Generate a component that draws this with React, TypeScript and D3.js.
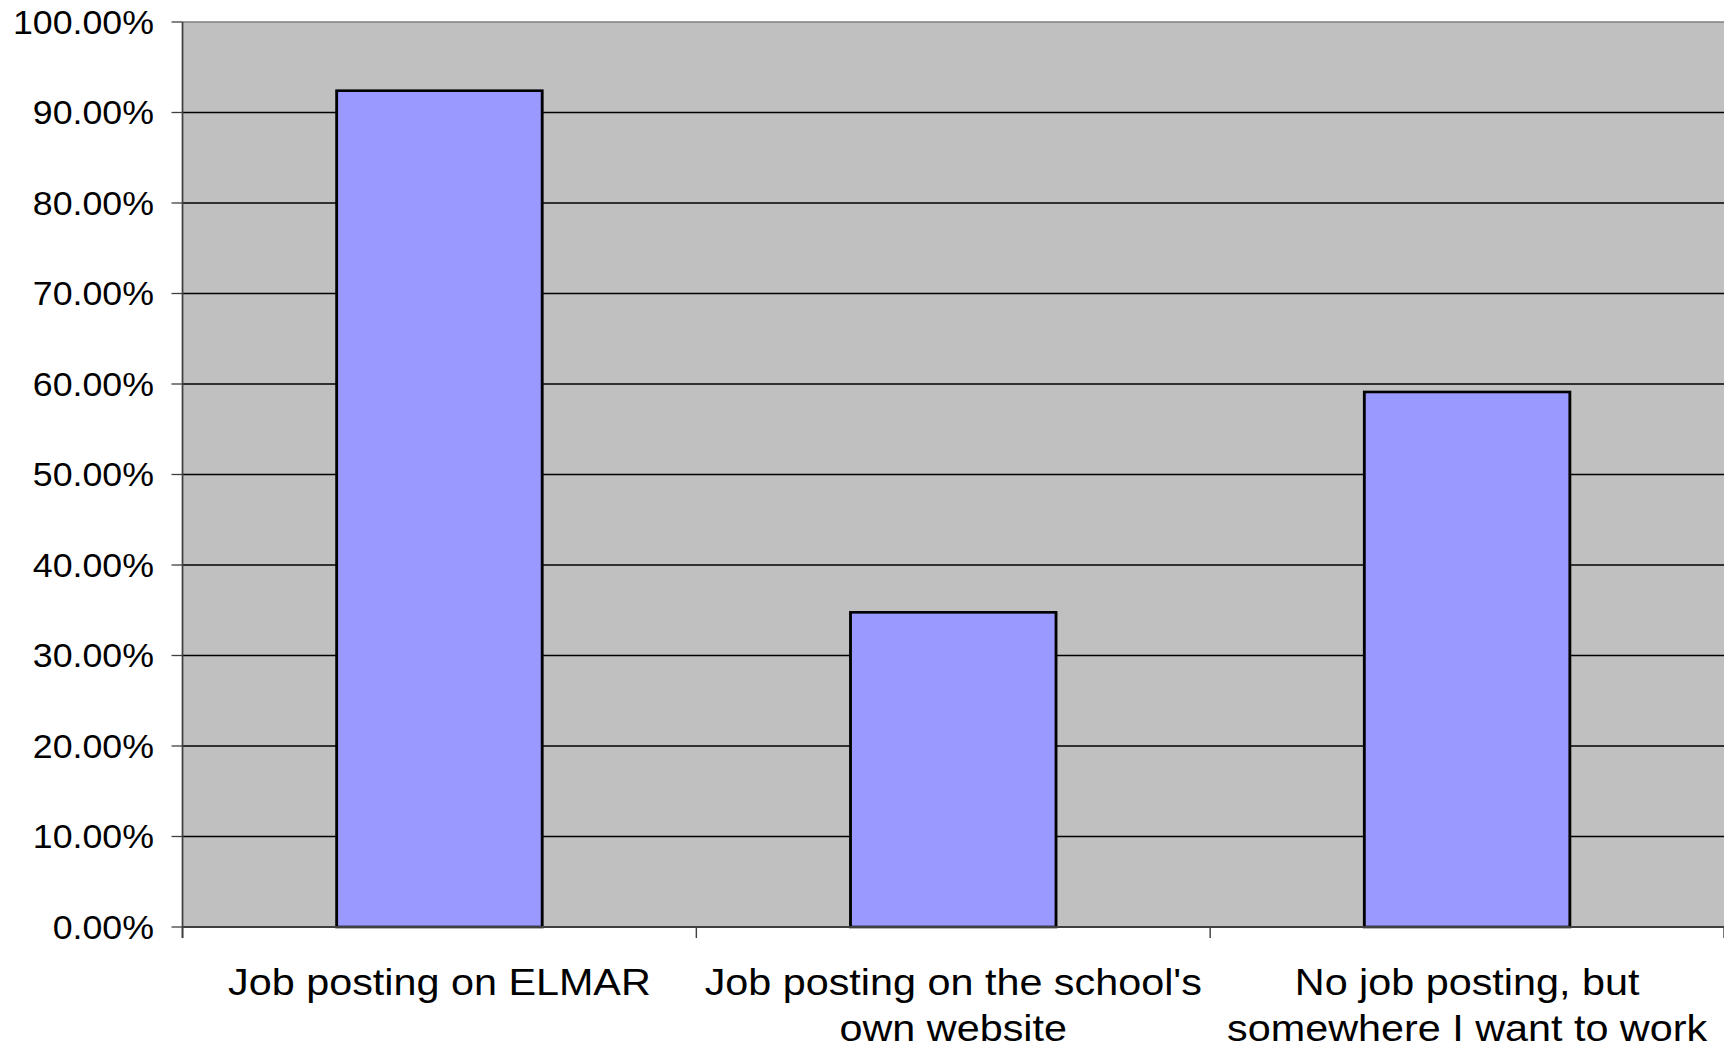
import { useEffect, useRef } from "react";
import * as d3 from "d3";

// Chart data
const categories = [
  "Job posting on ELMAR",
  "Job posting on the school's\nown website",
  "No job posting, but\nsomewhere I want to work",
];
const values = [92.41, 34.77, 59.12];
const yTicks = [0, 10, 20, 30, 40, 50, 60, 70, 80, 90, 100];

// The original picture is stretched horizontally, so draw in a narrower
// view box and let the svg stretch it to the page width.
const VIEW_W = 1568;
const VIEW_H = 1045;
const OUT_W = 1724;

const margin = { top: 22, right: 0, bottom: VIEW_H - 927, left: 166 };
const width = VIEW_W - margin.left - margin.right;
const height = VIEW_H - margin.top - margin.bottom;

const FONT = "'Liberation Sans', Arial, sans-serif";

export default function App() {
  const ref = useRef<SVGSVGElement | null>(null);

  useEffect(() => {
    const root = d3.select(ref.current);
    root.selectAll("*").remove();

    const x = d3
      .scaleBand<string>()
      .domain(categories)
      .range([0, width])
      .paddingInner(0.6)
      .paddingOuter(0.3);

    // outer band edges used for the category tick marks
    const step = width / categories.length;

    const y = d3.scaleLinear().domain([0, 100]).range([height, 0]);

    const svg = root
      .append("g")
      .attr("transform", `translate(${margin.left},${margin.top})`);

    // Plot area
    svg
      .append("rect")
      .attr("width", width)
      .attr("height", height)
      .attr("fill", "#c0c0c0");

    // Gridlines
    svg
      .selectAll("line.grid")
      .data(yTicks.filter((t) => t > 0))
      .join("line")
      .attr("class", "grid")
      .attr("x1", 0)
      .attr("x2", width)
      .attr("y1", (d) => y(d))
      .attr("y2", (d) => y(d))
      .attr("stroke", (d) => (d === 100 ? "#808080" : "#000"))
      .attr("stroke-width", 1.3);

    // Bars
    svg
      .selectAll("rect.bar")
      .data(values)
      .join("rect")
      .attr("class", "bar")
      .attr("x", (_, i) => x(categories[i])!)
      .attr("width", x.bandwidth())
      .attr("y", (d) => y(d))
      .attr("height", (d) => height - y(d))
      .attr("fill", "#9999ff")
      .attr("stroke", "#000")
      .attr("stroke-width", 2.6);

    // Y axis
    svg
      .append("line")
      .attr("x1", 0)
      .attr("x2", 0)
      .attr("y1", 0)
      .attr("y2", height + 11)
      .attr("stroke", "#404040")
      .attr("stroke-width", 1.6);

    svg
      .selectAll("line.ytick")
      .data(yTicks)
      .join("line")
      .attr("class", "ytick")
      .attr("x1", -10)
      .attr("x2", 0)
      .attr("y1", (d) => y(d))
      .attr("y2", (d) => y(d))
      .attr("stroke", "#404040")
      .attr("stroke-width", 1.3);

    svg
      .selectAll("text.ylab")
      .data(yTicks)
      .join("text")
      .attr("class", "ylab")
      .attr("x", -26)
      .attr("y", (d) => y(d) + 11.6)
      .attr("text-anchor", "end")
      .attr("font-family", FONT)
      .attr("font-size", 32.5)
      .attr("fill", "#000")
      .text((d) => d3.format(".2f")(d) + "%");

    // X axis
    svg
      .append("line")
      .attr("x1", 0)
      .attr("x2", width)
      .attr("y1", height)
      .attr("y2", height)
      .attr("stroke", "#404040")
      .attr("stroke-width", 2);

    svg
      .selectAll("line.xtick")
      .data(d3.range(categories.length + 1))
      .join("line")
      .attr("class", "xtick")
      .attr("x1", (d) => d * step)
      .attr("x2", (d) => d * step)
      .attr("y1", height)
      .attr("y2", height + 11)
      .attr("stroke", "#404040")
      .attr("stroke-width", 1.3);

    // Category labels
    const labels = svg
      .selectAll("text.xlab")
      .data(categories)
      .join("text")
      .attr("class", "xlab")
      .attr("text-anchor", "middle")
      .attr("font-family", FONT)
      .attr("font-size", 37.6)
      .attr("fill", "#000")
      .attr("transform", (d) => `translate(${x(d)! + x.bandwidth() / 2},${height + 68})`);

    labels
      .selectAll("tspan")
      .data((d) => d.split("\n"))
      .join("tspan")
      .attr("x", 0)
      .attr("y", (_, i) => i * 46.5)
      .text((d) => d);
  }, []);

  return (
    <svg
      ref={ref}
      width={OUT_W}
      height={VIEW_H}
      viewBox={`0 0 ${VIEW_W} ${VIEW_H}`}
      preserveAspectRatio="none"
      style={{ position: "absolute", left: 0, top: 0, background: "#fff" }}
    />
  );
}
